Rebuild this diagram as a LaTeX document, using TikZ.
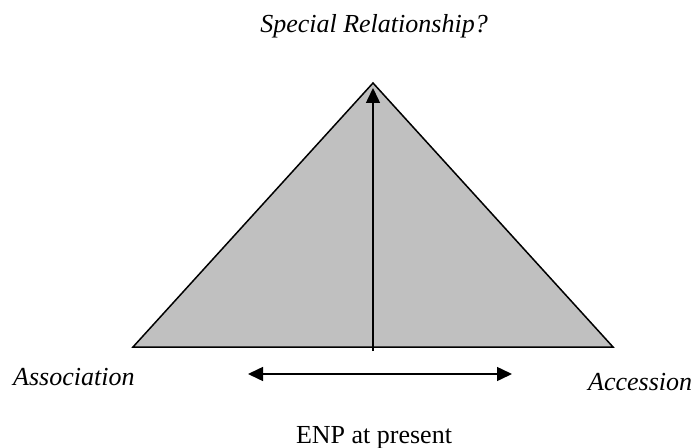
\documentclass[tikz,border=0pt]{standalone}
\usepackage{fontspec}
\setmainfont{Liberation Serif}
\usetikzlibrary{arrows.meta}
\definecolor{trigray}{HTML}{C0C0C0}
\tikzset{
  lbl/.style={inner sep=0pt, font=\fontsize{26bp}{30bp}\selectfont},
  ilbl/.style={lbl, font=\fontsize{26bp}{30bp}\selectfont\itshape},
  arr/.style={line width=1.5bp, -{Triangle[length=15bp,width=14bp]}},
  darr/.style={line width=1.5bp, {Triangle[length=15bp,width=14bp]}-{Triangle[length=15bp,width=14bp]}}
}
\begin{document}
\begin{tikzpicture}[x=1bp,y=-1bp]
\useasboundingbox (0,0) rectangle (698,448);
\coordinate (apex) at (373,83);
\coordinate (bl) at (133,347);
\coordinate (br) at (613,347);
\coordinate (vbot) at (373,351);
\coordinate (vtop) at (373,88);
\coordinate (hl) at (248,374);
\coordinate (hr) at (512,374);
\filldraw[fill=trigray, draw=black, line width=1.5bp, line join=miter] (bl) -- (apex) -- (br) -- cycle;
\draw[arr] (vbot) -- (vtop);
\draw[darr] (hl) -- (hr);
\node[ilbl, anchor=base] (sr) at (374,33) {Special Relationship?};
\node[ilbl, anchor=base west] (assoc) at (13,385) {Association};
\node[ilbl, anchor=base west] (acc) at (588,390) {Accession};
\node[lbl, anchor=base] (enp) at (374,443) {ENP at present};
\end{tikzpicture}
\end{document}
